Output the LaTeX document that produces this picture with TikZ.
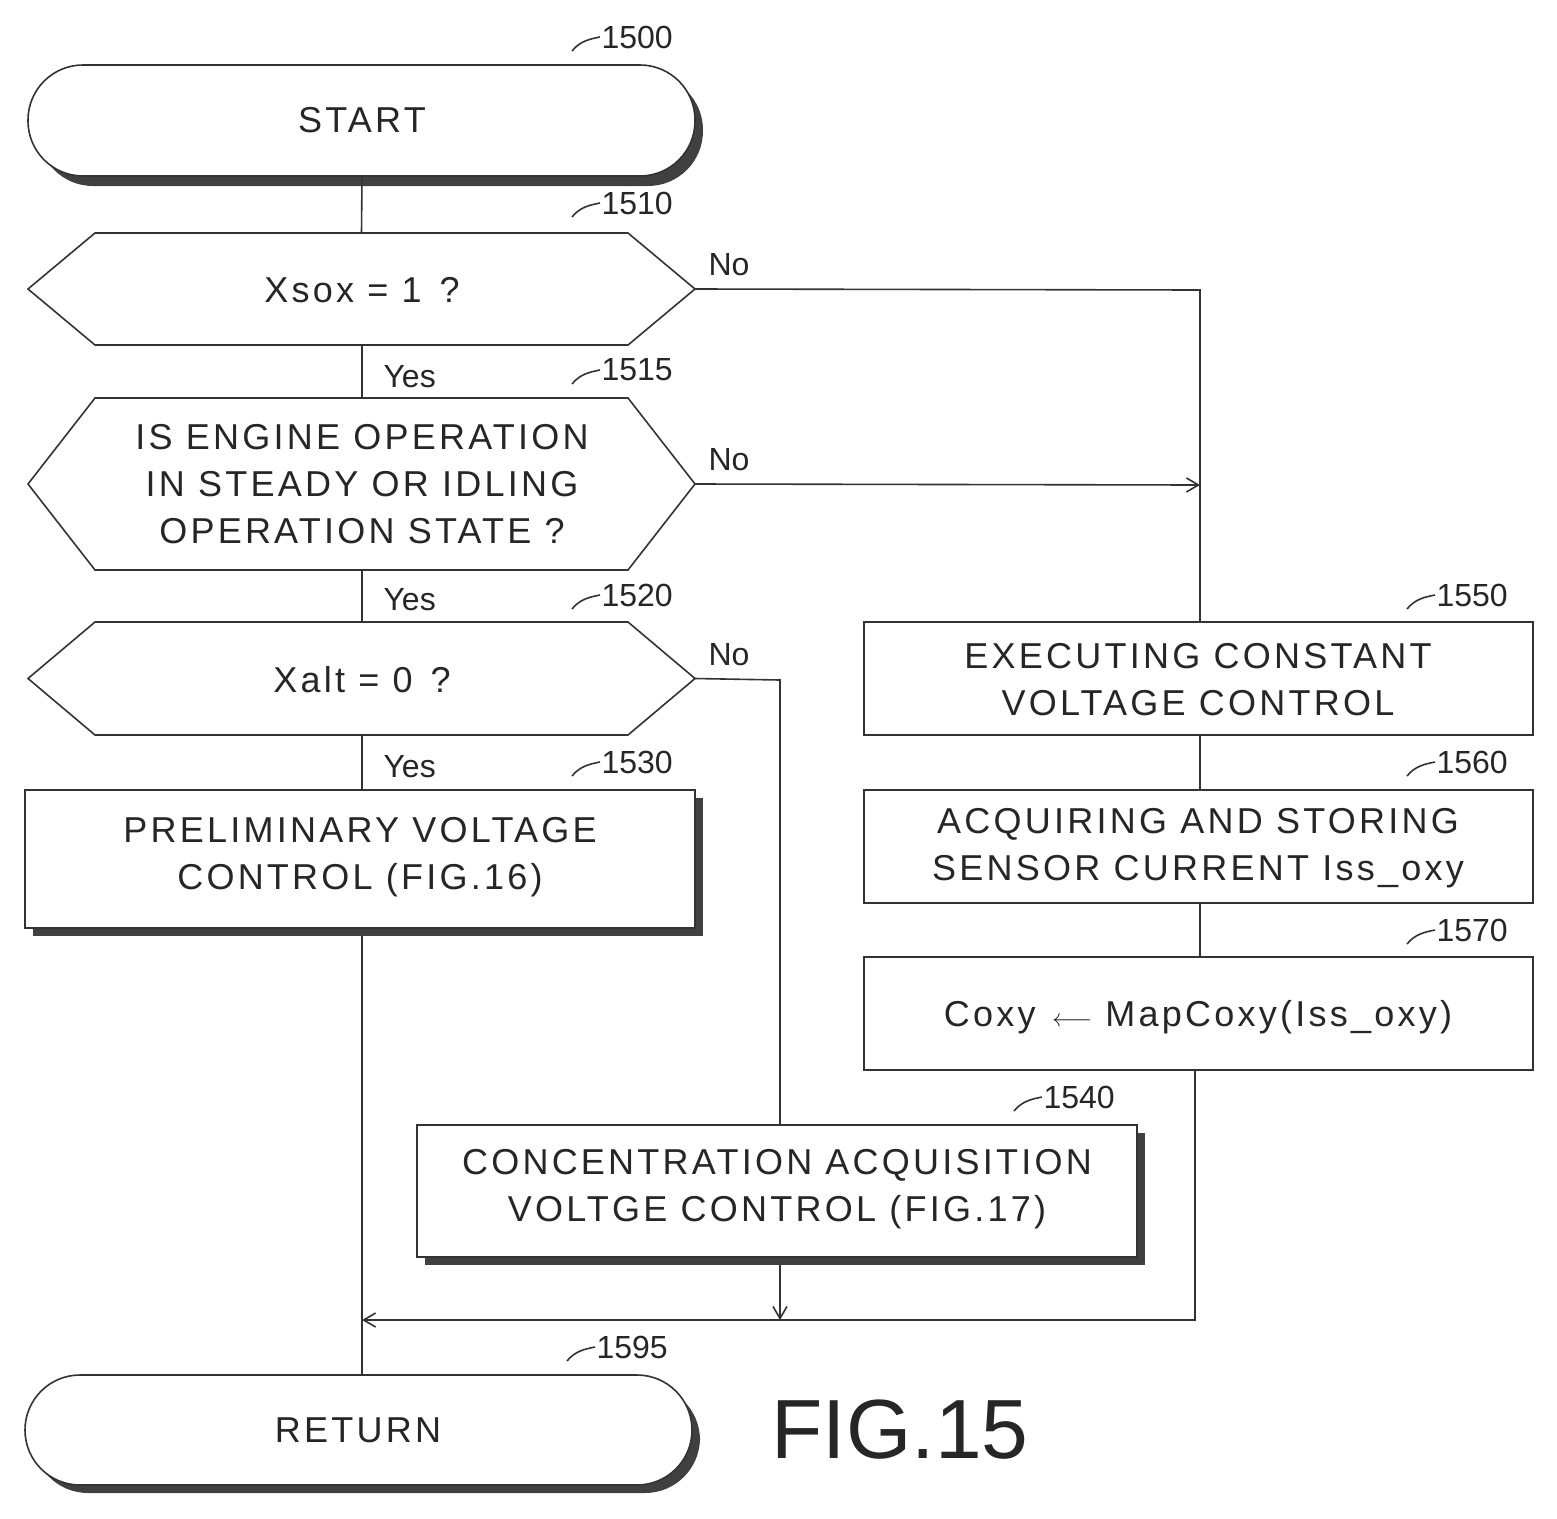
\documentclass[tikz,border=0pt]{standalone}
\usepackage{fontspec}
\setmainfont{Liberation Sans}
\usetikzlibrary{arrows.meta}
\begin{document}
\begin{tikzpicture}[x=1pt,y=-1pt,
  ln/.style={line width=1.6pt,black!80},
  txt/.style={font=\fontsize{36}{47}\selectfont\addfontfeatures{LetterSpace=9},align=center,text=black!85},
  ref/.style={font=\fontsize{32}{36}\selectfont,text=black!85},
  arr/.style={ln,-{Straight Barb[length=12pt,width=14pt]}}]
\useasboundingbox (0,0) rectangle (1557,1518);
\newcommand{\hexa}[5]{%
  \draw[ln] (#2,{(#3+#5)/2}) -- (#2+67,#3) -- (#4-67,#3) -- (#4,{(#3+#5)/2}) -- (#4-67,#5) -- (#2+67,#5) -- cycle;
  \coordinate (#1-t) at ({(#2+#4)/2},#3);
  \coordinate (#1-r) at (#4,{(#3+#5)/2});}
\newcommand{\refl}[3]{\draw[ln] (#1-48,#2+14) .. controls (#1-40,#2+4) and (#1-30,#2+2) .. (#1-20,#2);
  \node[ref,anchor=west] at (#1-22,#2) {#3};}
% START
\fill[black!75,rounded corners=55pt] (38,75) rectangle (703,186);
\draw[ln,fill=white,rounded corners=55pt] (28,65) rectangle (695,176);
\node[txt] (start) at (362,120) {START};
\refl{620}{37}{1500}
\hexa{d1}{28}{233}{695}{345}
\node[txt] (d1t) at (362,290) {Xsox = 1\enspace ?};
\refl{620}{203}{1510}
\hexa{d2}{28}{398}{695}{570}
\node[txt] (d2t) at (362,484) {IS ENGINE OPERATION\\IN STEADY OR IDLING\\OPERATION STATE ?};
\refl{620}{370}{1515}
\hexa{d3}{28}{622}{695}{735}
\node[txt] (d3t) at (362,680) {Xalt = 0\enspace ?};
\refl{620}{595}{1520}
% 1530
\fill[black!75] (33,798) rectangle (703,936);
\draw[ln,fill=white] (25,790) rectangle (695,928);
\node[txt] (p1) at (360,857) {PRELIMINARY VOLTAGE\\CONTROL (FIG.16)};
\refl{620}{762}{1530}
% 1540
\fill[black!75] (425,1133) rectangle (1145,1265);
\draw[ln,fill=white] (417,1125) rectangle (1137,1257);
\node[txt] (p2) at (777,1189) {CONCENTRATION ACQUISITION\\VOLTGE CONTROL (FIG.17)};
\refl{1062}{1097}{1540}
% right boxes
\draw[ln] (864,622) rectangle (1533,735);
\node[txt] (b1) at (1198,680) {EXECUTING CONSTANT\\VOLTAGE CONTROL};
\refl{1455}{595}{1550}
\draw[ln] (864,790) rectangle (1533,903);
\node[txt] (b2) at (1198,848) {ACQUIRING AND STORING\\SENSOR CURRENT Iss\_oxy};
\refl{1455}{762}{1560}
\draw[ln] (864,957) rectangle (1533,1070);
\node[txt] (b3) at (1198,1017) {Coxy \textbf{$\longleftarrow$} MapCoxy(Iss\_oxy)};
\refl{1455}{930}{1570}
% RETURN
\fill[black!75,rounded corners=55pt] (33,1385) rectangle (700,1493);
\draw[ln,fill=white,rounded corners=55pt] (25,1375) rectangle (692,1485);
\node[txt] (ret) at (358,1430) {RETURN};
\refl{615}{1347}{1595}
\node[font=\fontsize{84}{90}\selectfont,text=black!85] (fig) at (900,1430) {FIG.15};
% connectors
\coordinate (j1) at (1200,485);
\coordinate (j2) at (780,1320);
\coordinate (j3) at (362,1320);
\draw[ln] (362,176) -- (d1-t);
\draw[ln] (362,345) -- (362,398);
\draw[ln] (362,570) -- (362,622);
\draw[ln] (362,735) -- (362,790);
\draw[ln] (362,936) -- (362,1375);
\draw[ln] (d1-r) -- (1200,290) -- (1200,622);
\draw[arr] (d2-r) -- (j1);
\draw[ln] (d3-r) -- (780,680) -- (780,1125);
\draw[arr] (780,1265) -- (j2);
\draw[ln] (1200,735) -- (1200,790);
\draw[ln] (1200,903) -- (1200,957);
\draw[arr] (1195,1070) -- (1195,1320) -- (j3);
\node[ref,anchor=west] at (705,265) {No};
\node[ref,anchor=west] at (705,460) {No};
\node[ref,anchor=west] at (705,655) {No};
\node[ref,anchor=west] at (380,377) {Yes};
\node[ref,anchor=west] at (380,600) {Yes};
\node[ref,anchor=west] at (380,767) {Yes};
\end{tikzpicture}
\end{document}
